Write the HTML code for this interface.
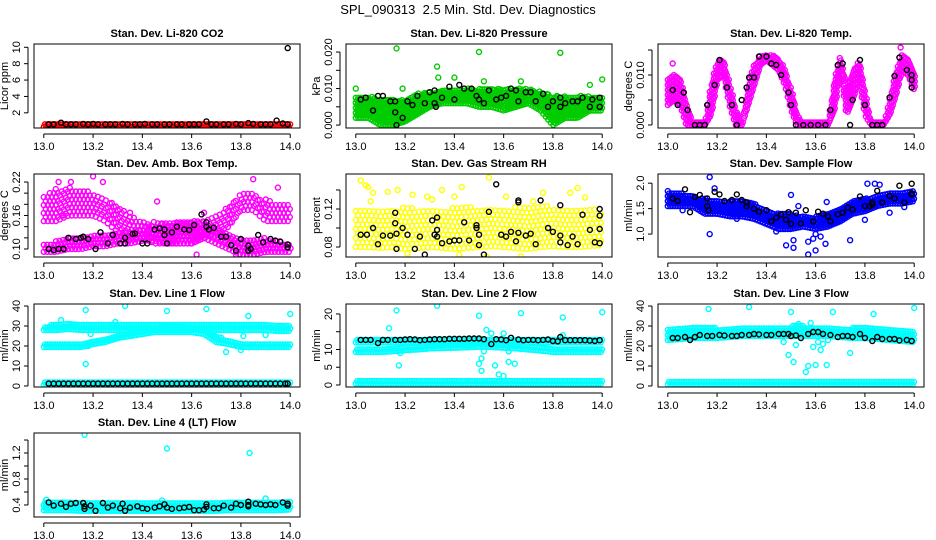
<!DOCTYPE html>
<html><head><meta charset="utf-8">
<style>
html,body{margin:0;padding:0;background:#fff;}
svg{display:block;font-family:"Liberation Sans",sans-serif;}
</style></head>
<body>
<svg id="chart" width="936" height="540" viewBox="0 0 936 540" xmlns="http://www.w3.org/2000/svg">
<rect x="0" y="0" width="936" height="540" fill="#fff"/>
<text x="468" y="14" font-size="13" text-anchor="middle">SPL_090313 &#160;2.5 Min. Std. Dev. Diagnostics</text>
</svg>
<script>
// ---------- data arrays ----------
const xTicks = [13.0, 13.2, 13.4, 13.6, 13.8, 14.0];
const xTickLabels = ["13.0", "13.2", "13.4", "13.6", "13.8", "14.0"];
const binX = [13.00,13.05,13.10,13.15,13.20,13.25,13.30,13.35,13.40,13.45,13.50,13.55,13.60,13.65,13.70,13.75,13.80,13.85,13.90,13.95,14.00];

// P1 CO2
const co2Lo = [0.3,0.3,0.3,0.3,0.3,0.3,0.3,0.3,0.3,0.3,0.3,0.3,0.3,0.3,0.3,0.3,0.3,0.3,0.3,0.3,0.3];
const co2Hi = [0.9,0.9,0.9,0.9,0.9,0.9,0.9,0.9,0.9,0.9,0.9,0.9,0.9,0.9,0.9,0.9,0.9,0.9,0.9,0.9,0.9];
const co2BlackX = [13.02,13.04,13.07,13.09,13.11,13.13,13.16,13.18,13.2,13.22,13.25,13.27,13.29,13.32,13.34,13.37,13.39,13.41,13.44,13.46,13.49,13.51,13.54,13.56,13.59,13.61,13.63,13.66,13.68,13.7,13.73,13.75,13.78,13.8,13.83,13.85,13.88,13.9,13.92,13.945,13.97,13.99,13.99];
const co2BlackY = [0.6,0.6,0.8,0.6,0.6,0.6,0.65,0.6,0.65,0.6,0.6,0.6,0.6,0.65,0.6,0.6,0.6,0.65,0.6,0.6,0.6,0.6,0.6,0.6,0.6,0.6,0.6,0.95,0.6,0.6,0.6,0.6,0.65,0.6,0.75,0.65,0.6,0.6,0.6,1.05,0.7,0.6,9.9];

// P2 pressure
const presLo = [0.002,0.002,0.000,0.000,0.001,0.003,0.005,0.006,0.006,0.006,0.005,0.005,0.004,0.005,0.006,0.004,0.000,0.002,0.002,0.004,0.004];
const presHi = [0.008,0.008,0.007,0.007,0.007,0.009,0.009,0.010,0.010,0.010,0.010,0.010,0.010,0.010,0.010,0.009,0.008,0.008,0.008,0.008,0.008];
const presOutX = [13.0,13.165,13.19,13.33,13.335,13.4,13.5,13.52,13.67,13.83,13.95,14.0];
const presOutY = [0.010,0.021,0.010,0.016,0.013,0.013,0.020,0.012,0.012,0.0198,0.011,0.0125];
const presBlackX = [13.02,13.04,13.07,13.09,13.11,13.14,13.16,13.16,13.165,13.19,13.21,13.23,13.25,13.28,13.3,13.32,13.32,13.325,13.35,13.38,13.4,13.42,13.44,13.47,13.49,13.5,13.52,13.54,13.57,13.59,13.61,13.63,13.65,13.66,13.69,13.71,13.73,13.76,13.78,13.8,13.83,13.83,13.85,13.88,13.9,13.92,13.95,13.96,13.99,13.99];
const presBlackY = [0.007,0.0075,0.004,0.008,0.008,0.0065,0.0065,0.0035,0,0.002,0.0065,0.0055,0.008,0.006,0.009,0.0095,0.006,0.005,0.0075,0.0105,0.007,0.011,0.010,0.010,0.008,0.007,0.006,0.0095,0.007,0.0075,0.008,0.010,0.0095,0.0065,0.009,0.009,0.0065,0.0085,0.005,0.0065,0.0075,0.005,0.006,0.0065,0.0065,0.0075,0.005,0.007,0.0075,0.005];

// P3 Li-820 temperature
const tempBinX = [13.000,13.025,13.050,13.075,13.100,13.125,13.150,13.175,13.200,13.225,13.250,13.275,13.300,13.325,13.350,13.375,13.400,13.425,13.450,13.475,13.500,13.525,13.550,13.575,13.600,13.625,13.650,13.675,13.700,13.725,13.750,13.775,13.800,13.825,13.850,13.875,13.900,13.925,13.950,13.975,14.000];
const tempLo = [0.004,0.005,0.004,0.000,0,0,0,0.002,0.009,0.010,0.004,0,0,0.004,0.008,0.012,0.013,0.012,0.011,0.008,0.003,0,0,0,0,0,0,0.003,0.011,0.002,0.005,0.009,0.002,0,0,0,0.002,0.006,0.011,0.010,0.007];
const tempHi = [0.009,0.010,0.009,0.004,0.0005,0.0005,0.0005,0.008,0.013,0.013,0.008,0.003,0.0005,0.008,0.012,0.014,0.014,0.014,0.013,0.011,0.007,0.002,0.0005,0.0005,0.0005,0.0005,0.0005,0.009,0.014,0.007,0.011,0.013,0.006,0.0005,0.0005,0.0005,0.005,0.011,0.014,0.013,0.010];
const tempOutX = [13.02,13.945,13.01];
const tempOutY = [0.0123,0.0155,0.005];
const tempBlackX = [13.02,13.04,13.065,13.08,13.11,13.13,13.15,13.16,13.19,13.21,13.24,13.26,13.28,13.3,13.32,13.33,13.35,13.37,13.4,13.42,13.44,13.46,13.49,13.5,13.52,13.55,13.58,13.61,13.64,13.66,13.69,13.71,13.74,13.75,13.78,13.8,13.83,13.85,13.87,13.9,13.92,13.94,13.97,13.99,13.99,13.99];
const tempBlackY = [0.007,0.004,0.0065,0.003,0,0,0,0.004,0.008,0.013,0.0075,0.004,0,0.005,0.0075,0.0095,0.0095,0.0137,0.0137,0.0123,0.012,0.010,0.0065,0.004,0,0,0,0,0,0.003,0.012,0.0123,0,0.005,0.013,0.004,0,0,0,0.0055,0.0098,0.0135,0.011,0.0075,0.009,0.010];

// P4 ambient box temperature
const ambUpLo = [.15,.15,.16,.16,.16,.15,.13,.12,.12,.11,.11,.11,.11,.12,.13,.14,.17,.17,.15,.15,.15];
const ambUpHi = [.20,.21,.21,.21,.20,.19,.18,.16,.15,.15,.15,.15,.15,.15,.16,.18,.20,.20,.19,.18,.18];
const ambLowLo = [.095,.095,.10,.10,.105,.105,.11,.11,.115,.115,.11,.11,.11,.12,.11,.10,.09,.09,.095,.095,.095];
const ambLowHi = [.11,.115,.12,.12,.125,.125,.13,.13,.14,.145,.145,.15,.15,.15,.14,.13,.12,.12,.12,.115,.11];
const ambOutX = [13.06,13.11,13.2,13.24,13.35,13.46,13.5,13.62,13.65,13.78,13.85,13.95,13.08,13.3];
const ambOutY = [0.22,0.22,0.23,0.22,0.165,0.185,0.14,0.09,0.165,0.09,0.225,0.21,0.16,0.17];
const ambBlackX = [13.02,13.04,13.06,13.08,13.1,13.13,13.15,13.16,13.18,13.21,13.23,13.26,13.28,13.31,13.33,13.33,13.36,13.37,13.4,13.42,13.45,13.47,13.49,13.49,13.5,13.52,13.54,13.57,13.59,13.61,13.64,13.66,13.66,13.67,13.69,13.72,13.74,13.76,13.78,13.8,13.83,13.83,13.84,13.87,13.89,13.92,13.94,13.96,13.99,13.99];
const ambBlackY = [0.10,0.098,0.10,0.10,0.12,0.118,0.12,0.122,0.118,0.10,0.13,0.11,0.125,0.11,0.12,0.11,0.127,0.128,0.11,0.11,0.135,0.137,0.135,0.125,0.11,0.13,0.14,0.135,0.134,0.143,0.162,0.148,0.14,0.135,0.138,0.122,0.122,0.107,0.097,0.118,0.097,0.106,0.10,0.125,0.112,0.118,0.115,0.113,0.108,0.103];

// P5 gas stream RH
const rhLo = [0.080,0.080,0.079,0.080,0.078,0.079,0.080,0.079,0.078,0.079,0.080,0.081,0.080,0.079,0.078,0.080,0.081,0.080,0.080,0.081,0.082];
const rhHi = [0.120,0.122,0.118,0.120,0.122,0.120,0.118,0.120,0.122,0.124,0.120,0.122,0.118,0.124,0.122,0.124,0.122,0.120,0.122,0.120,0.118];
const rhOutX = [13.02,13.04,13.05,13.07,13.13,13.17,13.23,13.29,13.35,13.4,13.43,13.54,13.61,13.76,13.87,13.9,13.93,13.53,13.67,13.21,13.42,13.06,13.31,13.72];
const rhOutY = [0.150,0.145,0.143,0.137,0.138,0.140,0.135,0.133,0.140,0.133,0.143,0.153,0.133,0.137,0.137,0.142,0.132,0.070,0.070,0.073,0.072,0.128,0.130,0.128];
const rhBlackX = [13.02,13.045,13.07,13.09,13.11,13.14,13.16,13.16,13.165,13.165,13.19,13.21,13.24,13.26,13.28,13.31,13.32,13.33,13.33,13.33,13.35,13.38,13.4,13.42,13.44,13.46,13.49,13.49,13.5,13.5,13.52,13.54,13.57,13.59,13.61,13.63,13.65,13.66,13.66,13.66,13.69,13.71,13.73,13.75,13.78,13.8,13.83,13.83,13.83,13.86,13.88,13.9,13.92,13.95,13.97,13.99,13.99,13.99,13.99];
const rhBlackY = [0.093,0.093,0.10,0.083,0.092,0.092,0.116,0.105,0.094,0.078,0.10,0.093,0.078,0.091,0.072,0.108,0.093,0.098,0.111,0.091,0.084,0.086,0.087,0.087,0.106,0.087,0.10,0.103,0.093,0.082,0.072,0.117,0.146,0.093,0.091,0.096,0.086,0.095,0.127,0.129,0.092,0.094,0.083,0.129,0.10,0.096,0.124,0.092,0.085,0.082,0.091,0.083,0.114,0.098,0.085,0.12,0.113,0.099,0.084];

// P6 sample flow
const sfLo = [1.55,1.55,1.55,1.40,1.40,1.35,1.35,1.30,1.20,1.10,1.10,1.15,1.10,1.15,1.25,1.40,1.45,1.55,1.60,1.60,1.65];
const sfHi = [1.85,1.80,1.75,1.70,1.65,1.65,1.65,1.60,1.45,1.40,1.40,1.35,1.35,1.40,1.50,1.65,1.70,1.75,1.80,1.80,1.85];
const sfOutX = [13.17,13.17,13.19,13.28,13.44,13.48,13.5,13.51,13.51,13.53,13.57,13.57,13.59,13.6,13.6,13.62,13.64,13.645,13.74,13.8,13.81,13.84,13.86,13.9,13.96,13.06];
const sfOutY = [2.12,1.0,1.9,1.3,1.05,0.78,1.77,0.88,0.73,1.55,0.6,0.85,0.91,0.68,1.0,0.95,0.81,1.63,0.88,1.28,1.99,1.99,1.97,1.42,1.53,1.47];
const sfBlackX = [13.02,13.04,13.07,13.09,13.11,13.13,13.16,13.16,13.165,13.19,13.21,13.23,13.26,13.28,13.3,13.32,13.32,13.35,13.37,13.4,13.42,13.44,13.46,13.48,13.49,13.5,13.52,13.54,13.56,13.59,13.61,13.63,13.65,13.66,13.69,13.71,13.73,13.75,13.78,13.8,13.82,13.83,13.83,13.85,13.87,13.9,13.92,13.94,13.96,13.99,13.99,13.99];
const sfBlackY = [1.7,1.65,1.88,1.43,1.73,1.77,1.7,1.55,1.47,1.83,1.78,1.65,1.67,1.78,1.67,1.62,1.55,1.5,1.44,1.47,1.25,1.32,1.38,1.28,1.43,1.2,1.42,1.21,1.47,1.25,1.44,1.4,1.35,1.25,1.39,1.42,1.52,1.48,1.74,1.55,1.55,1.62,1.58,1.85,1.62,1.75,1.7,1.95,1.62,1.99,1.8,1.78];

// Line 1 flow
const l1ALo = [28,28,28.5,28,28,28,28,28,28,28,28,28,28,28,28,28,28,28,28,27.5,27.5];
const l1AHi = [30,31,32,30.5,30.5,30.5,30.5,30.5,30.5,30.5,30.5,31,30.5,30.5,30.5,30.5,30.5,30.5,30.5,30,30];
const l1BLo = [19.5,19.5,19.5,19.5,21,22,24,25,26,27,27,27,27,26,22,21,19.5,19.5,19.5,19.5,19.5];
const l1BHi = [21,21,21,21.5,23,24,26,28,28,29,30,30,29,29,25,23,21.5,21,21,21,21];
const l1CLo = [0.5,0.5,0.5,0.5,0.5,0.5,0.5,0.5,0.5,0.5,0.5,0.5,0.5,0.5,0.5,0.5,0.5,0.5,0.5,0.5,0.5];
const l1CHi = [2,2,2,2,2,2,2,2,2,2,2,2,2,2,2,2,2,2,2,2,2];
const l1OutX = [13.17,13.17,13.19,13.18,13.29,13.33,13.5,13.66,13.74,13.78,13.8,13.81,13.83,13.9,13.96,14.0,13.07];
const l1OutY = [38,11,26,20,32,40,37.5,38.5,17,21,18,25,35,25.5,30,36,33];
const l1BlackX = [13.02,13.04,13.06,13.08,13.1,13.12,13.14,13.16,13.18,13.2,13.22,13.24,13.26,13.28,13.3,13.32,13.34,13.36,13.38,13.4,13.42,13.44,13.46,13.48,13.5,13.52,13.54,13.56,13.58,13.6,13.62,13.64,13.66,13.68,13.7,13.72,13.74,13.76,13.78,13.8,13.82,13.84,13.86,13.88,13.9,13.92,13.94,13.96,13.98,13.99];
const l1BlackY = [1.2,1.2,1.2,1.2,1.2,1.2,1.2,1.2,1.2,1.2,1.2,1.2,1.2,1.2,1.2,1.2,1.2,1.2,1.2,1.2,1.2,1.2,1.2,1.2,1.2,1.2,1.2,1.2,1.2,1.2,1.2,1.2,1.2,1.2,1.2,1.2,1.2,1.2,1.2,1.2,1.2,1.2,1.2,1.2,1.2,1.2,1.2,1.2,1.2,1.2];

// Line 2 flow
const l2ALo = [12,12,12,12,12,12,12,12,12,12,12,12,12,12,12,12,12,12,12,12,12];
const l2AHi = [13.2,13.2,13.2,13.2,13.2,13.2,13.3,13.3,13.4,13.4,13.4,13.4,13.4,13.3,13.2,13.2,13.2,13.2,13.2,13.2,13.2];
const l2BLo = [9.3,9.3,9.3,9.5,9.8,10,10.3,10.4,10.5,10.6,10.8,10.7,10.5,10.3,10,9.7,9.3,9.3,9.3,9.3,9.3];
const l2BHi = [10.5,10.5,10.5,10.7,11,11.2,11.3,11.6,11.8,11.9,12,11.9,11.8,11.5,11.2,10.8,10.5,10.5,10.5,10.4,10.3];
const l2CLo = [0.4,0.4,0.4,0.4,0.4,0.4,0.4,0.4,0.4,0.4,0.4,0.4,0.4,0.4,0.4,0.4,0.4,0.4,0.4,0.4,0.4];
const l2CHi = [1.4,1.4,1.4,1.4,1.4,1.4,1.4,1.4,1.4,1.4,1.4,1.4,1.4,1.4,1.4,1.4,1.4,1.4,1.4,1.4,1.4];
const l2OutX = [13.135,13.165,13.175,13.18,13.33,13.5,13.5,13.51,13.51,13.52,13.53,13.55,13.565,13.58,13.6,13.6,13.62,13.62,13.645,13.67,13.84,13.84,14.0];
const l2OutY = [16,21,5.5,9,22.3,19.5,6,4,7.5,9.5,15.5,14.5,5.5,3,2.5,14.5,6.5,9.5,6,20.2,19,14,20.5];
const l2BlackX = [13.02,13.04,13.06,13.09,13.11,13.13,13.16,13.18,13.2,13.22,13.24,13.26,13.28,13.3,13.32,13.34,13.36,13.38,13.4,13.42,13.44,13.46,13.48,13.5,13.52,13.55,13.57,13.59,13.61,13.63,13.66,13.68,13.7,13.72,13.74,13.76,13.78,13.8,13.82,13.83,13.85,13.87,13.89,13.91,13.93,13.95,13.97,13.99];
const l2BlackY = [12.7,12.7,12.7,11.8,12.7,12.7,12.7,12.7,12.8,12.9,12.8,12.6,12.7,12.8,12.9,12.9,12.9,13.0,13.0,13.0,13.0,13.1,13.1,13.1,12.9,11.5,12.9,12.8,12.6,13.3,12.8,12.6,12.7,12.7,12.6,12.7,12.8,12.4,12.3,13.5,12.6,12.6,12.6,12.6,12.6,12.5,12.4,12.6];

// Line 3 flow
const l3ALo = [23,23.5,24,24,24,24.5,25,25,25,25,25,25,25,25,24.5,24,24,23.5,23,22.5,22];
const l3AHi = [28,28.5,30,29,29,29,29,29,29,29.5,30,30,29.5,29,29,29,29,28.5,28,27.5,27];
const l3CLo = [0.8,0.8,0.8,0.8,0.8,0.8,0.8,0.8,0.8,0.8,0.8,0.8,0.8,0.8,0.8,0.8,0.8,0.8,0.8,0.8,0.8];
const l3CHi = [2.3,2.3,2.3,2.3,2.3,2.3,2.3,2.3,2.3,2.3,2.3,2.3,2.3,2.3,2.3,2.3,2.3,2.3,2.3,2.3,2.3];
const l3OutX = [13.165,13.33,13.5,13.51,13.49,13.53,13.56,13.57,13.59,13.6,13.62,13.61,13.63,13.645,13.67,13.74,13.835,14.0,13.47,13.58,13.52,13.65];
const l3OutY = [38.5,39.5,37,12,15.5,31,7,10,19.5,10.5,18,22,21,10.5,37,16.5,36,39,22,31.5,20.5,23];
const l3BlackX = [13.02,13.04,13.07,13.09,13.11,13.13,13.16,13.18,13.21,13.23,13.26,13.28,13.3,13.33,13.35,13.37,13.4,13.42,13.45,13.47,13.49,13.5,13.52,13.54,13.57,13.59,13.61,13.63,13.66,13.69,13.71,13.73,13.75,13.78,13.8,13.83,13.85,13.87,13.9,13.92,13.94,13.97,13.99];
const l3BlackY = [24,24,24.5,23,24.5,25.5,25,25,25.5,25.2,25,25,25.5,25.5,26,25.8,25.5,25.5,26,26,26,25,25.3,24,26,27,27,26,25.5,24.5,25,25,24.5,26,24,22.5,24.5,23.5,23.5,23.5,22.8,23,22.5];

// Line 4 (LT) flow
const l4Lo = [0.32,0.32,0.32,0.31,0.31,0.31,0.31,0.31,0.31,0.31,0.31,0.31,0.31,0.31,0.31,0.32,0.32,0.32,0.32,0.32,0.33];
const l4Hi = [0.47,0.46,0.45,0.45,0.45,0.44,0.44,0.44,0.45,0.45,0.45,0.45,0.45,0.45,0.45,0.46,0.46,0.46,0.47,0.47,0.47];
const l4OutX = [13.165,13.5,13.835,13.9,13.01,13.48];
const l4OutY = [1.48,1.27,1.2,0.5,0.48,0.47];
const l4BlackX = [13.02,13.04,13.07,13.09,13.11,13.13,13.16,13.165,13.165,13.19,13.21,13.24,13.26,13.28,13.31,13.32,13.33,13.35,13.38,13.4,13.42,13.45,13.47,13.49,13.5,13.52,13.55,13.57,13.59,13.61,13.63,13.65,13.66,13.66,13.69,13.71,13.73,13.76,13.78,13.8,13.83,13.83,13.83,13.86,13.88,13.9,13.92,13.94,13.97,13.99,13.99];
const l4BlackY = [.44,.39,.42,.37,.42,.43,.43,.34,.38,.39,.31,.43,.36,.39,.35,.42,.31,.36,.38,.35,.34,.36,.38,.41,.36,.34,.35,.36,.37,.32,.32,.33,.41,.37,.35,.35,.39,.36,.42,.40,.45,.40,.38,.42,.41,.40,.41,.40,.44,.42,.39];

// ---------- drawing ----------
const svg = document.getElementById('chart');
const NS = 'http://www.w3.org/2000/svg';
function mk(tag, attrs, parent) {
  const e = document.createElementNS(NS, tag);
  for (const k in attrs) e.setAttribute(k, attrs[k]);
  (parent || svg).appendChild(e);
  return e;
}
function interp(xs, ys, x) {
  if (x <= xs[0]) return ys[0];
  for (let i = 1; i < xs.length; i++) {
    if (x <= xs[i]) { const t = (x - xs[i-1]) / (xs[i] - xs[i-1]); return ys[i-1] + t * (ys[i] - ys[i-1]); }
  }
  return ys[ys.length-1];
}

function panel(p) {
  const g = mk('g', {});
  
  
  const L = p.box[0], R = p.box[1], T = p.box[2], B = p.box[3];
  const x0 = L + 9.8, x1 = R - 9.8;
  const sx = v => x0 + (v - 13.0) / (14.0 - 13.0) * (x1 - x0);
  const sy = v => B - (v - p.ymin) / (p.ymax - p.ymin) * (B - T);
  const clip = 'clip-' + p.name;
  const cp = mk('clipPath', {id: clip}, g);
  mk('rect', {x: L, y: T, width: R - L, height: B - T}, cp);
  const marks = mk('g', {'clip-path': 'url(#' + clip + ')'}, g);
  
  

  const dot = (cx, cy, col) => mk('circle', {cx: cx.toFixed(1), cy: cy.toFixed(1), r: 2.5, fill: 'none', stroke: col, 'stroke-width': 1.4}, marks);

  (p.bands || []).forEach(b => {
    const step = b.step || 2.5;
    for (let px = sx(b.xs[0]); px <= sx(b.xs[b.xs.length-1]) + 0.1; px += step) {
      const xv = 13.0 + (px - x0) / (x1 - x0);
      const lo = sy(interp(b.xs, b.lo, xv)), hi = sy(interp(b.xs, b.hi, xv));
      const vstep = b.vstep || 2.5;
      let k = 0;
      for (let py = lo; py >= hi - 0.01; py -= vstep) {
        dot(px + ((k % 2) ? step / 2 : 0), py, b.color);
        k++;
      }
      if (lo - hi < vstep) dot(px, (lo + hi) / 2, b.color);
    }
  });
  if (p.outX) p.outX.forEach((xv, i) => dot(sx(xv), sy(p.outY[i]), p.color));
  if (p.blackX) p.blackX.forEach((xv, i) => dot(sx(xv), sy(p.blackY[i]), '#000'));

  const box = mk('rect', {x: L, y: T, width: R - L, height: B - T, fill: 'none', stroke: '#000', 'stroke-width': 1}, g);
  
  
  const tt = mk('text', {x: (L + R) / 2, y: T - 7, 'font-size': 11, 'font-weight': 'bold', 'text-anchor': 'middle'}, g);
  
  
  tt.textContent = p.title;
  const xa = mk('g', {}, g);
  
  
  mk('line', {x1: sx(xTicks[0]), x2: sx(xTicks[xTicks.length-1]), y1: B + 6, y2: B + 6, stroke: '#000'}, xa);
  xTicks.forEach((v, i) => {
    mk('line', {x1: sx(v), x2: sx(v), y1: B + 6, y2: B + 10, stroke: '#000'}, xa);
    const t = mk('text', {x: sx(v), y: B + 22, 'font-size': 11, 'text-anchor': 'middle'}, xa);
    t.textContent = xTickLabels[i];
  });
  const ya = mk('g', {}, g);
  
  
  mk('line', {x1: L - 6, x2: L - 6, y1: sy(p.yTicks[0]), y2: sy(p.yTicks[p.yTicks.length-1]), stroke: '#000'}, ya);
  p.yTicks.forEach((v, i) => {
    mk('line', {x1: L - 10, x2: L - 6, y1: sy(v), y2: sy(v), stroke: '#000'}, ya);
    if (p.yLabels[i]) {
      const t = mk('text', {x: 0, y: 0, 'font-size': 11, 'text-anchor': 'middle', transform: 'translate(' + (L - 14) + ',' + sy(v) + ') rotate(-90)'}, ya);
      t.textContent = p.yLabels[i];
    }
  });
  const yt = mk('text', {x: 0, y: 0, 'font-size': 11, 'text-anchor': 'middle', transform: 'translate(' + (L - 26) + ',' + ((T + B) / 2) + ') rotate(-90)'}, g);
  
  
  yt.textContent = p.ylab;
}

const C1 = [34, 300], C2 = [346, 612], C3 = [658, 924];
const R1 = [44, 128], R2 = [174, 257], R3 = [304, 387], R4 = [433, 517];
const red = '#ff0000', green = '#00cc00', mag = '#ff00ff', yel = '#ffff00', blue = '#0000ff', cyan = '#00ffff';

panel({name: 'co2-panel', title: 'Stan. Dev. Li-820 CO2', ylab: 'Licor ppm', box: [...C1, ...R1], ymin: 0.15, ymax: 10.4,
  yTicks: [2,4,6,8,10], yLabels: ['2','4','6','8','10'], color: red,
  bands: [{xs: binX, lo: co2Lo, hi: co2Hi, color: red}], blackX: co2BlackX, blackY: co2BlackY});
panel({name: 'pressure-panel', title: 'Stan. Dev. Li-820 Pressure', ylab: 'kPa', box: [...C2, ...R1], ymin: -0.0008, ymax: 0.0222,
  yTicks: [0,0.005,0.010,0.015,0.020], yLabels: ['0.000','','0.010','','0.020'], color: green,
  bands: [{xs: binX, lo: presLo, hi: presHi, color: green}], outX: presOutX, outY: presOutY, blackX: presBlackX, blackY: presBlackY});
panel({name: 'li820-temp-panel', title: 'Stan. Dev. Li-820 Temp.', ylab: 'degrees C', box: [...C3, ...R1], ymin: -0.0006, ymax: 0.0162,
  yTicks: [0,0.005,0.010,0.015], yLabels: ['0.000','','0.010',''], color: mag,
  bands: [{xs: tempBinX, lo: tempLo, hi: tempHi, color: mag, step: 2}], outX: tempOutX, outY: tempOutY, blackX: tempBlackX, blackY: tempBlackY});
panel({name: 'amb-box-temp-panel', title: 'Stan. Dev. Amb. Box Temp.', ylab: 'degrees C', box: [...C1, ...R2], ymin: 0.0857, ymax: 0.2343,
  yTicks: [0.10,0.12,0.14,0.16,0.18,0.20,0.22], yLabels: ['0.10','','','0.16','','','0.22'], color: mag,
  bands: [{xs: binX, lo: ambUpLo, hi: ambUpHi, color: mag, step: 4, vstep: 4}, {xs: binX, lo: ambLowLo, hi: ambLowHi, color: mag, step: 3.5, vstep: 3.5}],
  outX: ambOutX, outY: ambOutY, blackX: ambBlackX, blackY: ambBlackY});
panel({name: 'gas-rh-panel', title: 'Stan. Dev. Gas Stream RH', ylab: 'percent', box: [...C2, ...R2], ymin: 0.0695, ymax: 0.1568,
  yTicks: [0.08,0.10,0.12,0.14], yLabels: ['0.08','','0.12',''], color: yel,
  bands: [{xs: binX, lo: rhLo, hi: rhHi, color: yel, step: 4.5, vstep: 4.5}], outX: rhOutX, outY: rhOutY, blackX: rhBlackX, blackY: rhBlackY});
panel({name: 'sample-flow-panel', title: 'Stan. Dev. Sample Flow', ylab: 'ml/min', box: [...C3, ...R2], ymin: 0.55, ymax: 2.18,
  yTicks: [1.0,1.5,2.0], yLabels: ['1.0','1.5','2.0'], color: blue,
  bands: [{xs: binX, lo: sfLo, hi: sfHi, color: blue}], outX: sfOutX, outY: sfOutY, blackX: sfBlackX, blackY: sfBlackY});
panel({name: 'line1-flow-panel', title: 'Stan. Dev. Line 1 Flow', ylab: 'ml/min', box: [...C1, ...R3], ymin: -0.5, ymax: 41,
  yTicks: [0,10,20,30,40], yLabels: ['0','10','20','30','40'], color: cyan,
  bands: [{xs: binX, lo: l1ALo, hi: l1AHi, color: cyan}, {xs: binX, lo: l1BLo, hi: l1BHi, color: cyan}, {xs: binX, lo: l1CLo, hi: l1CHi, color: cyan}],
  outX: l1OutX, outY: l1OutY, blackX: l1BlackX, blackY: l1BlackY});
panel({name: 'line2-flow-panel', title: 'Stan. Dev. Line 2 Flow', ylab: 'ml/min', box: [...C2, ...R3], ymin: -0.56, ymax: 22.8,
  yTicks: [0,5,10,15,20], yLabels: ['0','5','10','','20'], color: cyan,
  bands: [{xs: binX, lo: l2ALo, hi: l2AHi, color: cyan}, {xs: binX, lo: l2BLo, hi: l2BHi, color: cyan}, {xs: binX, lo: l2CLo, hi: l2CHi, color: cyan}],
  outX: l2OutX, outY: l2OutY, blackX: l2BlackX, blackY: l2BlackY});
panel({name: 'line3-flow-panel', title: 'Stan. Dev. Line 3 Flow', ylab: 'ml/min', box: [...C3, ...R3], ymin: -0.5, ymax: 41,
  yTicks: [0,10,20,30,40], yLabels: ['0','10','20','30','40'], color: cyan,
  bands: [{xs: binX, lo: l3ALo, hi: l3AHi, color: cyan}, {xs: binX, lo: l3CLo, hi: l3CHi, color: cyan}],
  outX: l3OutX, outY: l3OutY, blackX: l3BlackX, blackY: l3BlackY});
panel({name: 'line4-flow-panel', title: 'Stan. Dev. Line 4 (LT) Flow', ylab: 'ml/min', box: [...C1, ...R4], ymin: 0.215, ymax: 1.508,
  yTicks: [0.4,0.6,0.8,1.0,1.2,1.4], yLabels: ['0.4','','0.8','','1.2',''], color: cyan,
  bands: [{xs: binX, lo: l4Lo, hi: l4Hi, color: cyan}], outX: l4OutX, outY: l4OutY, blackX: l4BlackX, blackY: l4BlackY});
</script>
</body></html>
